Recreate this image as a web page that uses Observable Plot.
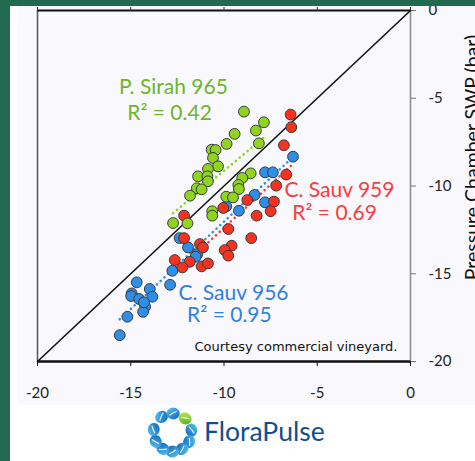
<!DOCTYPE html>
<html>
<head>
<meta charset="utf-8">
<script src="https://cdn.jsdelivr.net/npm/d3@7"></script>
<script src="https://cdn.jsdelivr.net/npm/@observablehq/plot@0.6"></script>
<style>
  html, body { margin: 0; padding: 0; }
  body { width: 475px; height: 461px; background: #226a4f; position: relative; overflow: hidden; font-family: Lato, "Open Sans", sans-serif; }
  #panel { position: absolute; left: 10px; top: 6px; width: 465px; height: 455px; background: #ffffff; }
  #chartbg { position: absolute; left: 18px; top: 6px; width: 457px; height: 399px; background: #f9f8fd; }
  #chart { position: absolute; left: 0; top: 6px; width: 475px; height: 399px; }
  #logo { position: absolute; left: 147px; top: 405px; width: 187px; height: 53px; background: #ffffff; }
</style>
</head>
<body>
<div id="panel"></div>
<div id="chartbg"></div>
<div id="chart"></div>
<div id="logo"></div>
<script>
// ---- data ----
const sirahX = [-8.93,-7.86,-8.29,-9.43,-9.86,-8.13,-10.66,-10.45,-10.59,-10.32,-10.86,-11.39,-10.89,-10.86,-11.46,-11.2,-11.82,-8.57,-9.02,-9.23,-9.2,-9.88,-9.52,-10.63,-10.63,-12.73,-11.96];
const sirahY = [-5.76,-6.37,-6.84,-7.03,-7.6,-7.57,-7.93,-7.95,-8.4,-8.88,-9.03,-9.45,-9.45,-9.73,-10.13,-10.19,-10.55,-9.28,-9.54,-9.94,-10.17,-10.61,-10.65,-11.44,-11.69,-12.11,-12.13];

const sauv959X = [-6.43,-6.39,-6.79,-6.66,-7.2,-7.32,-7.5,-8.25,-8.75,-10.04,-12.14,-9.77,-8.54,-12.14,-11.29,-11.13,-9.59,-9.96,-9.77,-12.64,-11.84,-12.23,-11.2,-10.86];
const sauv959Y = [-5.93,-6.65,-7.68,-9.35,-9.98,-10.89,-11.44,-11.69,-10.8,-11.25,-11.69,-12.45,-12.97,-12.97,-13.31,-13.5,-13.4,-13.65,-13.97,-14.22,-14.32,-14.64,-14.58,-14.41];

const sauv956X = [-6.3,-7.8,-7.38,-8.36,-7.8,-9.2,-9.88,-12.38,-11.93,-11.43,-11.52,-12.77,-12.89,-14.68,-14.95,-14.98,-13.98,-13.84,-14.55,-14.23,-14.34,-15.18,-15.59,-14.29];
const sauv956Y = [-8.33,-9.22,-9.22,-10.51,-10.93,-11.41,-11.16,-12.97,-13.5,-13.88,-14.03,-14.83,-15.63,-15.49,-16.12,-16.27,-15.87,-16.31,-16.44,-16.88,-17.17,-17.45,-18.5,-16.63];

const seriesNames = ["P. Sirah 965", "C. Sauv 959", "C. Sauv 956"];
const r2Labels = ["R² = 0.42", "R² = 0.69", "R² = 0.95"];
// label anchor positions (data units)
const labelX = [-12.71, -3.81, -9.49];
const labelY = [-4.39, -10.26, -16.13];
const r2X = [-12.92, -4.07, -9.71];
const r2Y = [-5.87, -11.57, -17.38];

const xTicks = [-20, -15, -10, -5, 0];
const yTicks = [-20, -15, -10, -5, 0];
const oneToOne = [-20, 0];
const yTitle = "Pressure Chamber SWP (bar)";
const credit = "Courtesy commercial vineyard.";
const creditPos = [-0.7, -19.15];

// ---- build tables ----
const zip = (xs, ys) => xs.map((x, i) => ({x, y: ys[i]}));
const sirah = zip(sirahX, sirahY);
const s959 = zip(sauv959X, sauv959Y);
const s956 = zip(sauv956X, sauv956Y);

const dotFill = ["#8fd41e", "#f3321f", "#2f8ee8"];
const lineCol = ["#8fd41e", "#ff3b30", "#2f8ee8"];
const textCol = ["#6cb52d", "#fb3c3c", "#2f80e4"];
const series = [sirah, s959, s956];

const labels = seriesNames.map((t, i) => ({t, x: labelX[i], y: labelY[i], c: textCol[i]}));
const r2s = r2Labels.map((t, i) => ({t, x: r2X[i], y: r2Y[i], c: textCol[i]}));

const font = "Lato, 'Open Sans', sans-serif";

const plot = Plot.plot({
  width: 475,
  height: 399,
  marginLeft: 37,
  marginRight: 65,
  marginTop: 4,
  marginBottom: 44,
  style: {background: "transparent", fontFamily: font, overflow: "hidden", color: "#222"},
  x: {domain: [-20, 0]},
  y: {domain: [-20, 0]},
  marks: [
    // frame
    Plot.ruleX([-20], {stroke: "#555", strokeWidth: 1.5}),
    Plot.ruleX([0], {stroke: "#8a8a8a", strokeWidth: 1.5}),
    Plot.ruleY([0], {stroke: "#111", strokeWidth: 2.2}),
    Plot.ruleY([-20], {stroke: "#111", strokeWidth: 2.4}),
    Plot.axisX({anchor: "bottom", ticks: xTicks, tickSize: 5, tickPadding: 21, fontSize: 15, tickFormat: d => String(d), label: null, stroke: "#111"}),
    Plot.axisX({anchor: "top", ticks: xTicks, tickSize: 4, tickFormat: () => "", label: null, stroke: "#333"}),
    Plot.axisY({anchor: "right", ticks: yTicks, tickSize: 5, tickPadding: 13, fontSize: 15, tickFormat: d => String(d), label: null, stroke: "#777", textAnchor: "start"}),
    // 1:1 line
    Plot.line(oneToOne, {x: d => d, y: d => d, stroke: "#111", strokeWidth: 1.6}),
    // regression lines
    ...series.map((s, i) => Plot.linearRegressionY(s, {x: "x", y: "y", ci: 0, stroke: lineCol[i], strokeWidth: 2.6, strokeDasharray: "0.1,5", strokeLinecap: "round"})),
    // points
    Plot.dot(s956, {x: "x", y: "y", r: 5.4, fill: dotFill[2], stroke: "#3a3a3a", strokeWidth: 1}),
    Plot.dot(s959, {x: "x", y: "y", r: 5.4, fill: dotFill[1], stroke: "#3a3a3a", strokeWidth: 1}),
    Plot.dot(sirah, {x: "x", y: "y", r: 5.4, fill: dotFill[0], stroke: "#3a3a3a", strokeWidth: 1}),
    // annotations
    Plot.text(labels, {x: "x", y: "y", text: "t", fill: "c", fontSize: 21, fontFamily: font}),
    Plot.text(r2s, {x: "x", y: "y", text: "t", fill: "c", fontSize: 21, fontFamily: font}),
    Plot.text([credit], {x: creditPos[0], y: creditPos[1], text: d => d, textAnchor: "end", fontSize: 13, fill: "#111", fontFamily: "'DejaVu Sans', sans-serif"}),
    Plot.text([yTitle], {frameAnchor: "right", textAnchor: "middle", lineAnchor: "middle", text: d => d, rotate: -90, dx: 62, dy: -28.5, fontSize: 19.5, fill: "#111", fontFamily: font})
  ]
});
document.getElementById("chart").appendChild(plot);

// ---- logo (decorative) ----
const NS = "http://www.w3.org/2000/svg";
const logo = document.createElementNS(NS, "svg");
logo.setAttribute("width", 187); logo.setAttribute("height", 53);
logo.innerHTML = `
<defs>
  <linearGradient id="gb" x1="0" y1="0" x2="1" y2="1">
    <stop offset="0" stop-color="#5cc8f5"/><stop offset="1" stop-color="#0a5fb8"/>
  </linearGradient>
  <linearGradient id="gg" x1="0" y1="0" x2="1" y2="1">
    <stop offset="0" stop-color="#c6ef5a"/><stop offset="1" stop-color="#4fa81a"/>
  </linearGradient>
</defs>`;
const cx = 25.5, cy = 27.5, R = 19;
const angles = [-125, -88, -48, -7, 29, 60, 90, 120, 152, 189];
angles.forEach((a, i) => {
  const t = a * Math.PI / 180;
  const x = cx + R * Math.cos(t), y = cy + R * Math.sin(t);
  const g = document.createElementNS(NS, "g");
  g.setAttribute("transform", `translate(${x},${y}) rotate(${a + 90})`);
  g.innerHTML = `<ellipse rx="6.6" ry="5.9" fill="url(#${i === 2 ? "gg" : "gb"})"/>
    <path d="M-3.5,1.8 Q0,-1 3.5,-2.4" stroke="#ffffff" stroke-width="1.2" fill="none" opacity="0.9"/>`;
  logo.appendChild(g);
});
const txt = document.createElementNS(NS, "text");
txt.setAttribute("x", 57); txt.setAttribute("y", 36);
txt.setAttribute("font-family", font);
txt.setAttribute("font-size", 26.5);
txt.setAttribute("fill", "#114e8e");
txt.textContent = "FloraPulse";
logo.appendChild(txt);
document.getElementById("logo").appendChild(logo);
</script>
</body>
</html>
